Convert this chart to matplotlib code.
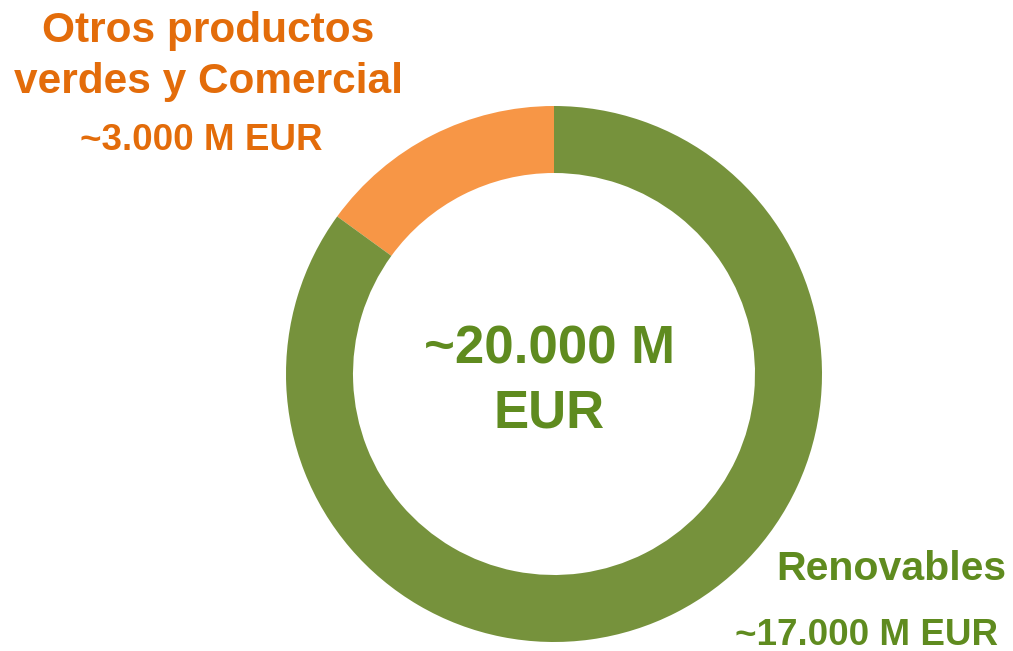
import matplotlib
matplotlib.use("Agg")
import matplotlib.pyplot as plt

labels = ["Otros productos\nverdes y Comercial", "Renovables"]
values = [3000, 17000]
value_labels = ["~3.000 M EUR", "~17.000 M EUR"]
total_label = "~20.000 M\nEUR"

wedge_colors = ["#F79646", "#76923C"]
text_orange = "#E36C0A"
text_green = "#5F8B1F"

W, H = 1013, 651
fig = plt.figure(figsize=(W / 100, H / 100), dpi=100)
fig.patch.set_facecolor("white")

ax = fig.add_axes([286 / W, (H - 642) / H, 536 / W, 536 / H])
ax.pie(values, colors=wedge_colors, startangle=90, counterclock=True,
       radius=1.0, wedgeprops=dict(width=0.25, edgecolor="none"))
ax.set_xlim(-1, 1)
ax.set_ylim(-1, 1)
ax.set_aspect("equal")
ax.axis("off")

font = "Liberation Sans"

def ftext(x, y, s, size, color, ha="center"):
    fig.text(x / W, 1 - y / H, s, fontsize=size, color=color, fontweight="bold",
             family=font, ha=ha, va="baseline")

ftext(208, 42, labels[0].split("\n")[0], 30.5, text_orange)
ftext(208, 93, labels[0].split("\n")[1], 30.5, text_orange)
ftext(201, 150, value_labels[0], 26.5, text_orange)

ftext(891, 580, labels[1], 29.5, text_green)
ftext(866, 645, value_labels[1], 26.5, text_green)

ftext(549, 363, total_label.split("\n")[0], 38, text_green)
ftext(549, 427, total_label.split("\n")[1], 38, text_green)

fig.savefig("out.png", dpi=100, facecolor="white")
